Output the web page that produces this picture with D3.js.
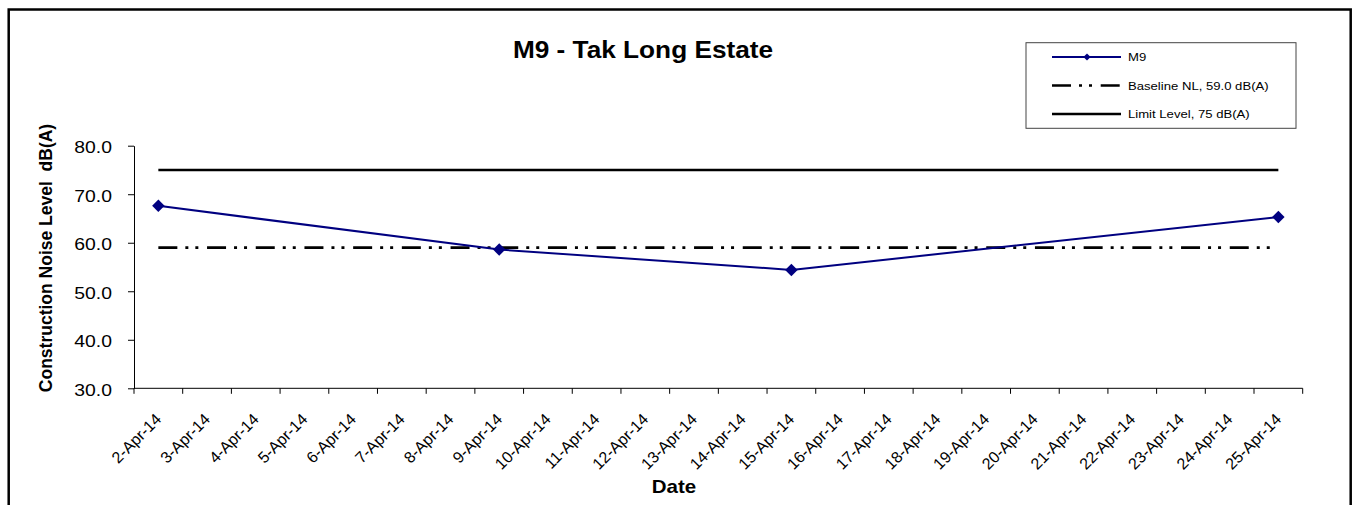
<!DOCTYPE html>
<html lang="en">
<head>
  <meta charset="UTF-8">
  <title>M9 - Tak Long Estate</title>
  <script src="https://d3js.org/d3.v7.min.js"></script>
  <style>
    body { margin: 0; overflow: hidden; background: #fff; }
    svg { display: block; }
    text { font-family: "Liberation Sans", Arial, sans-serif; fill: #000; }
  </style>
</head>
<body>
  <svg id="chart"></svg>
  <script>
    // Chart data
    const categories = ["2-Apr-14", "3-Apr-14", "4-Apr-14", "5-Apr-14", "6-Apr-14", "7-Apr-14",
      "8-Apr-14", "9-Apr-14", "10-Apr-14", "11-Apr-14", "12-Apr-14", "13-Apr-14", "14-Apr-14",
      "15-Apr-14", "16-Apr-14", "17-Apr-14", "18-Apr-14", "19-Apr-14", "20-Apr-14", "21-Apr-14",
      "22-Apr-14", "23-Apr-14", "24-Apr-14", "25-Apr-14"];
    const m9Dates = ["2-Apr-14", "9-Apr-14", "15-Apr-14", "25-Apr-14"];
    const m9Values = [67.6, 58.6, 54.4, 65.3];
    const baselineLevel = 59.0;
    const limitLevel = 75;
    const yTicks = [30, 40, 50, 60, 70, 80];
    const legendLabels = ["M9", "Baseline NL, 59.0 dB(A)", "Limit Level, 75 dB(A)"];

    const width = 1357, height = 505;
    const SX = 1.14; // the picture is slightly wider than tall
    const dashDot = "19,8,3,7,3,8.7";

    const svg = d3.select("#chart").attr("width", width).attr("height", height);

    // outer frame
    svg.append("rect")
      .attr("x", 8.7).attr("y", 9.5)
      .attr("width", 1342).attr("height", 520)
      .attr("fill", "none").attr("stroke", "#000").attr("stroke-width", 2.5);

    const x = d3.scaleBand().domain(categories).range([134, 1302.7]).padding(0);
    const y = d3.scaleLinear().domain([30, 80]).range([388.3, 145.7]);
    const cx = d => x(d) + x.bandwidth() / 2;

    // helper for horizontally stretched text
    function hText(g, tx, ty, str, size, weight, anchor) {
      return g.append("text")
        .attr("transform", `translate(${tx},${ty}) scale(${SX},1)`)
        .attr("text-anchor", anchor || "start")
        .style("font-size", size + "px")
        .style("font-weight", weight || "normal")
        .text(str);
    }

    // title
    hText(svg, 643, 58, "M9 - Tak Long Estate", 23, "bold", "middle");

    // y axis
    const yAxis = svg.append("g")
      .attr("transform", "translate(134,0)")
      .call(d3.axisLeft(y).tickValues(yTicks).tickSize(6).tickSizeOuter(0).tickFormat(d3.format(".1f")));
    yAxis.select(".domain").attr("stroke", "#000");
    yAxis.selectAll(".tick line").attr("stroke", "#000");
    yAxis.selectAll(".tick text")
      .attr("x", null).attr("dy", "0.4em")
      .attr("transform", `translate(-22,0) scale(${SX},1)`)
      .style("font-size", "17px").style("font-family", "Liberation Sans, Arial, sans-serif");

    // x axis (ticks at category boundaries)
    const xAxis = svg.append("g");
    const x0 = x.range()[0], x1 = x.range()[1], yb = y(30);
    xAxis.append("line")
      .attr("x1", x0).attr("x2", x1).attr("y1", yb).attr("y2", yb)
      .attr("stroke", "#000");
    const bounds = categories.map(c => x(c)).concat([x1]);
    xAxis.selectAll("line.tick").data(bounds).join("line")
      .attr("class", "tick")
      .attr("x1", d => d).attr("x2", d => d)
      .attr("y1", yb).attr("y2", yb + 5.5)
      .attr("stroke", "#000");
    xAxis.selectAll("text").data(categories).join("text")
      .attr("transform", d => `translate(${cx(d) + 4},${yb + 32}) rotate(-45)`)
      .attr("text-anchor", "end")
      .style("font-size", "16px")
      .text(d => d);

    // axis titles
    svg.append("text")
      .attr("transform", "translate(52,258) rotate(-90)")
      .attr("text-anchor", "middle")
      .style("white-space", "pre")
      .style("font-size", "17.5px").style("font-weight", "bold")
      .text("Construction Noise Level  dB(A)");
    hText(svg, 674, 493, "Date", 18, "bold", "middle");

    const first = categories[0], last = categories[categories.length - 1];

    // limit line
    svg.append("line")
      .attr("x1", cx(first)).attr("x2", cx(last))
      .attr("y1", y(limitLevel)).attr("y2", y(limitLevel))
      .attr("stroke", "#000").attr("stroke-width", 2.6);

    // baseline line
    svg.append("line")
      .attr("x1", cx(first)).attr("x2", cx(last))
      .attr("y1", y(baselineLevel)).attr("y2", y(baselineLevel))
      .attr("stroke", "#000").attr("stroke-width", 2.7)
      .attr("stroke-dasharray", dashDot);

    // M9 series
    const m9 = m9Dates.map((d, i) => ({ date: d, value: m9Values[i] }));
    svg.append("path")
      .datum(m9)
      .attr("fill", "none").attr("stroke", "#000080").attr("stroke-width", 2)
      .attr("d", d3.line().x(d => cx(d.date)).y(d => y(d.value)));
    const diamond = d3.symbol(d3.symbolSquare, 78);
    svg.selectAll("path.pt").data(m9).join("path")
      .attr("class", "pt")
      .attr("d", diamond)
      .attr("transform", d => `translate(${cx(d.date)},${y(d.value)}) rotate(45)`)
      .attr("fill", "#000080");

    // legend
    const lg = svg.append("g");
    lg.append("rect")
      .attr("x", 1026).attr("y", 42.7).attr("width", 270).attr("height", 85.6)
      .attr("fill", "#fff").attr("stroke", "#444").attr("stroke-width", 1);
    const rowY = [57, 85.5, 114];
    legendLabels.forEach((lab, i) => {
      const ly = rowY[i];
      const ln = lg.append("line")
        .attr("x1", 1052).attr("x2", 1121).attr("y1", ly).attr("y2", ly);
      if (i === 0) {
        ln.attr("stroke", "#000080").attr("stroke-width", 2);
        lg.append("path")
          .attr("d", d3.symbol(d3.symbolSquare, 26))
          .attr("transform", `translate(1087,${ly}) rotate(45)`)
          .attr("fill", "#000080");
      } else if (i === 1) {
        ln.attr("stroke", "#000").attr("stroke-width", 2.5).attr("stroke-dasharray", dashDot);
      } else {
        ln.attr("stroke", "#000").attr("stroke-width", 2.5);
      }
      hText(lg, 1128, ly + 4, lab, 11.5, "normal", "start");
    });
  </script>
</body>
</html>
